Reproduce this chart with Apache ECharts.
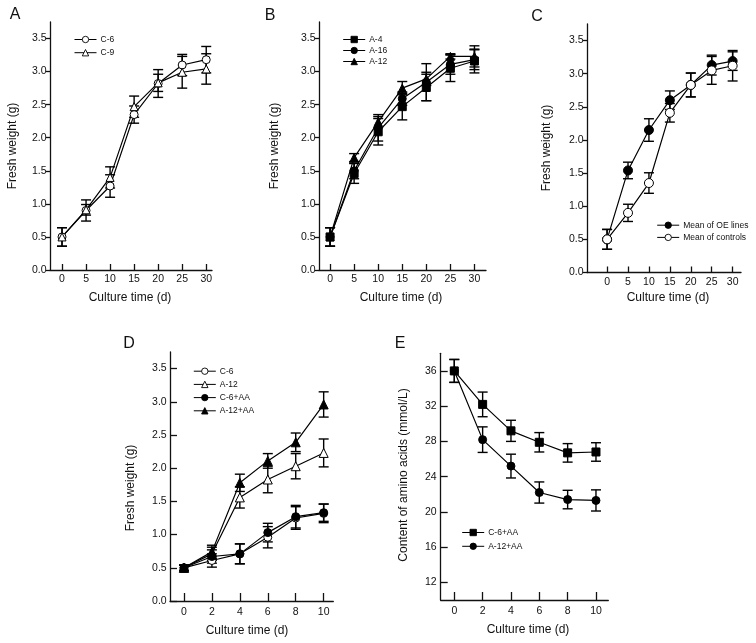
<!DOCTYPE html>
<html><head><meta charset="utf-8">
<script src="https://cdn.jsdelivr.net/npm/echarts@6/dist/echarts.min.js"></script>
<style>html,body{margin:0;padding:0;background:#fff}#c{width:756px;height:643px}</style>
</head><body><div id="c"></div>
<script>
// ---- shared axes ----
const daysABC = [0, 5, 10, 15, 20, 25, 30];
const daysDE = [0, 2, 4, 6, 8, 10];
const weightTicks = [0, 0.5, 1, 1.5, 2, 2.5, 3, 3.5];
const aaTicks = [12, 16, 20, 24, 28, 32, 36];

// ---- Panel A ----
const A_C6 = [0.50, 0.90, 1.27, 2.35, 2.82, 3.10, 3.18];
const A_C6_err = [0.14, 0.16, 0.17, 0.13, 0.21, 0.16, 0.20];
const A_C9 = [0.50, 0.91, 1.40, 2.47, 2.83, 2.99, 3.04];
const A_C9_err = [0.14, 0.08, 0.16, 0.16, 0.13, 0.24, 0.23];
// ---- Panel B ----
const B_A4 = [0.50, 1.46, 2.09, 2.47, 2.76, 3.05, 3.16];
const B_A4_err = [0.14, 0.15, 0.20, 0.20, 0.20, 0.20, 0.18];
const B_A16 = [0.50, 1.50, 2.15, 2.59, 2.84, 3.11, 3.18];
const B_A16_err = [0.14, 0.12, 0.20, 0.10, 0.28, 0.15, 0.15];
const B_A12 = [0.50, 1.70, 2.24, 2.75, 2.89, 3.23, 3.23];
const B_A12_err = [0.14, 0.06, 0.08, 0.10, 0.10, 0.04, 0.16];
// ---- Panel C ----
const C_OE = [0.50, 1.54, 2.15, 2.60, 2.83, 3.13, 3.19];
const C_OE_err = [0.15, 0.125, 0.17, 0.14, 0.18, 0.15, 0.14];
const C_ctrl = [0.50, 0.90, 1.35, 2.41, 2.83, 3.05, 3.12];
const C_ctrl_err = [0.15, 0.13, 0.155, 0.14, 0.18, 0.21, 0.23];
// ---- Panel D ----
const D_C6 = [0.50, 0.61, 0.71, 0.96, 1.25, 1.32];
const D_C6_err = [0.04, 0.10, 0.15, 0.16, 0.17, 0.14];
const D_A12 = [0.50, 0.71, 1.56, 1.83, 2.03, 2.23];
const D_A12_err = [0.04, 0.10, 0.16, 0.20, 0.19, 0.21];
const D_C6AA = [0.50, 0.67, 0.71, 1.03, 1.27, 1.33];
const D_C6AA_err = [0.04, 0.10, 0.15, 0.14, 0.17, 0.13];
const D_A12AA = [0.50, 0.74, 1.78, 2.11, 2.39, 2.96];
const D_A12AA_err = [0.04, 0.10, 0.13, 0.11, 0.14, 0.19];
// ---- Panel E ----
const E_C6AA = [36.0, 32.2, 29.2, 27.9, 26.7, 26.8];
const E_C6AA_err = [1.3, 1.4, 1.2, 1.1, 1.05, 1.05];
const E_A12AA = [36.0, 28.2, 25.2, 22.2, 21.4, 21.3];
const E_A12AA_err = [1.3, 1.45, 1.35, 1.2, 1.05, 1.2];

const FONT = "'Liberation Sans', Arial, Helvetica, sans-serif";
const INK = '#111';

const grids = [
  {left: 50, top: 22, width: 162, height: 248},
  {left: 319, top: 22, width: 167, height: 248},
  {left: 587, top: 24, width: 154, height: 248.5},
  {left: 170, top: 352, width: 163.3, height: 249},
  {left: 440.7, top: 353.3, width: 167.6, height: 246.7}
];

function xAxis(gi, min, max, ticks, tickLen, labelMargin) {
  return {
    type: 'value', gridIndex: gi, min: min, max: max,
    axisLine: {show: true, onZero: false, lineStyle: {color: INK, width: 1.3}},
    axisTick: {show: true, inside: true, length: tickLen, customValues: ticks, lineStyle: {color: INK, width: 1.3}},
    axisLabel: {customValues: ticks, margin: labelMargin, fontSize: 10.5, fontFamily: FONT, color: INK},
    splitLine: {show: false}
  };
}
function yAxis(gi, min, max, ticks, inside, tickLen, labelMargin, fmt) {
  return {
    type: 'value', gridIndex: gi, min: min, max: max,
    axisLine: {show: true, onZero: false, lineStyle: {color: INK, width: 1.3}},
    axisTick: {show: true, inside: inside, length: tickLen, customValues: ticks, lineStyle: {color: INK, width: 1.3}},
    axisLabel: {customValues: ticks, margin: labelMargin, fontSize: 10.5, fontFamily: FONT, color: INK, formatter: fmt},
    splitLine: {show: false}
  };
}

function lineSeries(name, gi, xs, ys, symbol, filled, size) {
  return {
    type: 'line', name: name, xAxisIndex: gi, yAxisIndex: gi,
    data: xs.map((x, i) => [x, ys[i]]),
    symbol: symbol, symbolSize: size, showSymbol: true,
    lineStyle: {color: '#000', width: 1.2},
    itemStyle: {color: filled ? '#000' : '#fff', borderColor: '#000', borderWidth: 1},
    z: 4, animation: false, emphasis: {disabled: true}
  };
}
function errRender(params, api) {
  const x = api.value(0), lo = api.value(1), hi = api.value(2);
  const p1 = api.coord([x, hi]), p2 = api.coord([x, lo]);
  const w = 5;
  const st = {stroke: '#000', lineWidth: 1.4};
  return {type: 'group', children: [
    {type: 'line', shape: {x1: p1[0], y1: p1[1], x2: p2[0], y2: p2[1]}, style: st},
    {type: 'line', shape: {x1: p1[0] - w, y1: p1[1], x2: p1[0] + w, y2: p1[1]}, style: st},
    {type: 'line', shape: {x1: p2[0] - w, y1: p2[1], x2: p2[0] + w, y2: p2[1]}, style: st}
  ]};
}
function errSeries(gi, xs, ys, es) {
  return {
    type: 'custom', xAxisIndex: gi, yAxisIndex: gi,
    data: xs.map((x, i) => [x, ys[i] - es[i], ys[i] + es[i]]),
    encode: {x: 0, y: [1, 2]},
    renderItem: errRender, z: 3, silent: true, animation: false
  };
}
function legend(names, left, top, gap) {
  return {
    data: names, orient: 'vertical', left: left, top: top, padding: 0,
    itemWidth: 22, itemHeight: 8, itemGap: gap, selectedMode: false,
    formatter: n => n.split('|')[1],
    itemStyle: {borderWidth: 0.9},
    lineStyle: {width: 1},
    textStyle: {fontSize: 8.5, fontFamily: FONT, color: INK, padding: [0, 0, 0, -1]}
  };
}
function txt(t, x, y, size, rot) {
  return {type: 'text', x: x, y: y, rotation: rot || 0, silent: true,
    style: {text: t, fontSize: size, fontFamily: FONT, fill: INK, align: 'center', verticalAlign: 'middle'}};
}

const f1 = v => v.toFixed(1);

const series = [
  errSeries(0, daysABC, A_C6, A_C6_err),
  errSeries(0, daysABC, A_C9, A_C9_err),
  lineSeries('A|C-6', 0, daysABC, A_C6, 'circle', false, 8),
  lineSeries('A|C-9', 0, daysABC, A_C9, 'triangle', false, 8),

  errSeries(1, daysABC, B_A4, B_A4_err),
  errSeries(1, daysABC, B_A16, B_A16_err),
  errSeries(1, daysABC, B_A12, B_A12_err),
  lineSeries('B|A-4', 1, daysABC, B_A4, 'rect', true, 8),
  lineSeries('B|A-16', 1, daysABC, B_A16, 'circle', true, 8),
  lineSeries('B|A-12', 1, daysABC, B_A12, 'triangle', true, 8),

  errSeries(2, daysABC, C_OE, C_OE_err),
  errSeries(2, daysABC, C_ctrl, C_ctrl_err),
  lineSeries('C|Mean of OE lines', 2, daysABC, C_OE, 'circle', true, 9),
  lineSeries('C|Mean of controls', 2, daysABC, C_ctrl, 'circle', false, 9),

  errSeries(3, daysDE, D_C6, D_C6_err),
  errSeries(3, daysDE, D_A12, D_A12_err),
  errSeries(3, daysDE, D_C6AA, D_C6AA_err),
  errSeries(3, daysDE, D_A12AA, D_A12AA_err),
  lineSeries('D|C-6', 3, daysDE, D_C6, 'circle', false, 8),
  lineSeries('D|A-12', 3, daysDE, D_A12, 'triangle', false, 9),
  lineSeries('D|C-6+AA', 3, daysDE, D_C6AA, 'circle', true, 8),
  lineSeries('D|A-12+AA', 3, daysDE, D_A12AA, 'triangle', true, 9),

  errSeries(4, daysDE, E_C6AA, E_C6AA_err),
  errSeries(4, daysDE, E_A12AA, E_A12AA_err),
  lineSeries('E|C-6+AA', 4, daysDE, E_C6AA, 'rect', true, 8),
  lineSeries('E|A-12+AA', 4, daysDE, E_A12AA, 'circle', true, 8)
];

const option = {
  animation: false,
  backgroundColor: '#fff',
  grid: grids,
  xAxis: [
    xAxis(0, -2.5, 31.2, daysABC, 6, 4),
    xAxis(1, -2.3, 32.4, daysABC, 6, 4),
    xAxis(2, -4.8, 32, daysABC, 6, 4),
    xAxis(3, -1.0, 10.69, daysDE, 8, 5.5),
    xAxis(4, -0.96, 10.87, daysDE, 8, 5.5)
  ],
  yAxis: [
    yAxis(0, 0, 3.75, weightTicks, false, 4, 3.5, f1),
    yAxis(1, 0, 3.75, weightTicks, false, 4, 3.5, f1),
    yAxis(2, 0, 3.75, weightTicks, false, 4, 3.5, f1),
    yAxis(3, 0, 3.75, weightTicks, true, 7, 3.3, f1),
    yAxis(4, 10, 38, aaTicks, true, 7, 4, v => String(v))
  ],
  legend: [
    legend(['A|C-6', 'A|C-9'], 74, 35, 4.2),
    legend(['B|A-4', 'B|A-16', 'B|A-12'], 342.7, 35, 2),
    legend(['C|Mean of OE lines', 'C|Mean of controls'], 656.7, 220.7, 3.2),
    legend(['D|C-6', 'D|A-12', 'D|C-6+AA', 'D|A-12+AA'], 193.3, 366.7, 4.2),
    legend(['E|C-6+AA', 'E|A-12+AA'], 461.7, 528, 4.8)
  ],
  graphic: [
    txt('A', 15, 15, 16), txt('B', 270, 16, 16), txt('C', 537, 17, 16),
    txt('D', 129, 344, 16), txt('E', 400, 344, 16),
    txt('Culture time (d)', 130, 298, 12),
    txt('Culture time (d)', 401, 298, 12),
    txt('Culture time (d)', 668, 298, 12),
    txt('Culture time (d)', 247, 631, 12),
    txt('Culture time (d)', 528, 630, 12),
    txt('Fresh weight (g)', 13, 146, 12, Math.PI / 2),
    txt('Fresh weight (g)', 275, 146, 12, Math.PI / 2),
    txt('Fresh weight (g)', 547, 148, 12, Math.PI / 2),
    txt('Fresh weight (g)', 131, 488, 12, Math.PI / 2),
    txt('Content of amino acids (mmol/L)', 404, 475, 12, Math.PI / 2)
  ],
  series: series
};

const chart = echarts.init(document.getElementById('c'), null, {renderer: 'canvas'});
chart.setOption(option);
</script>
</body></html>
